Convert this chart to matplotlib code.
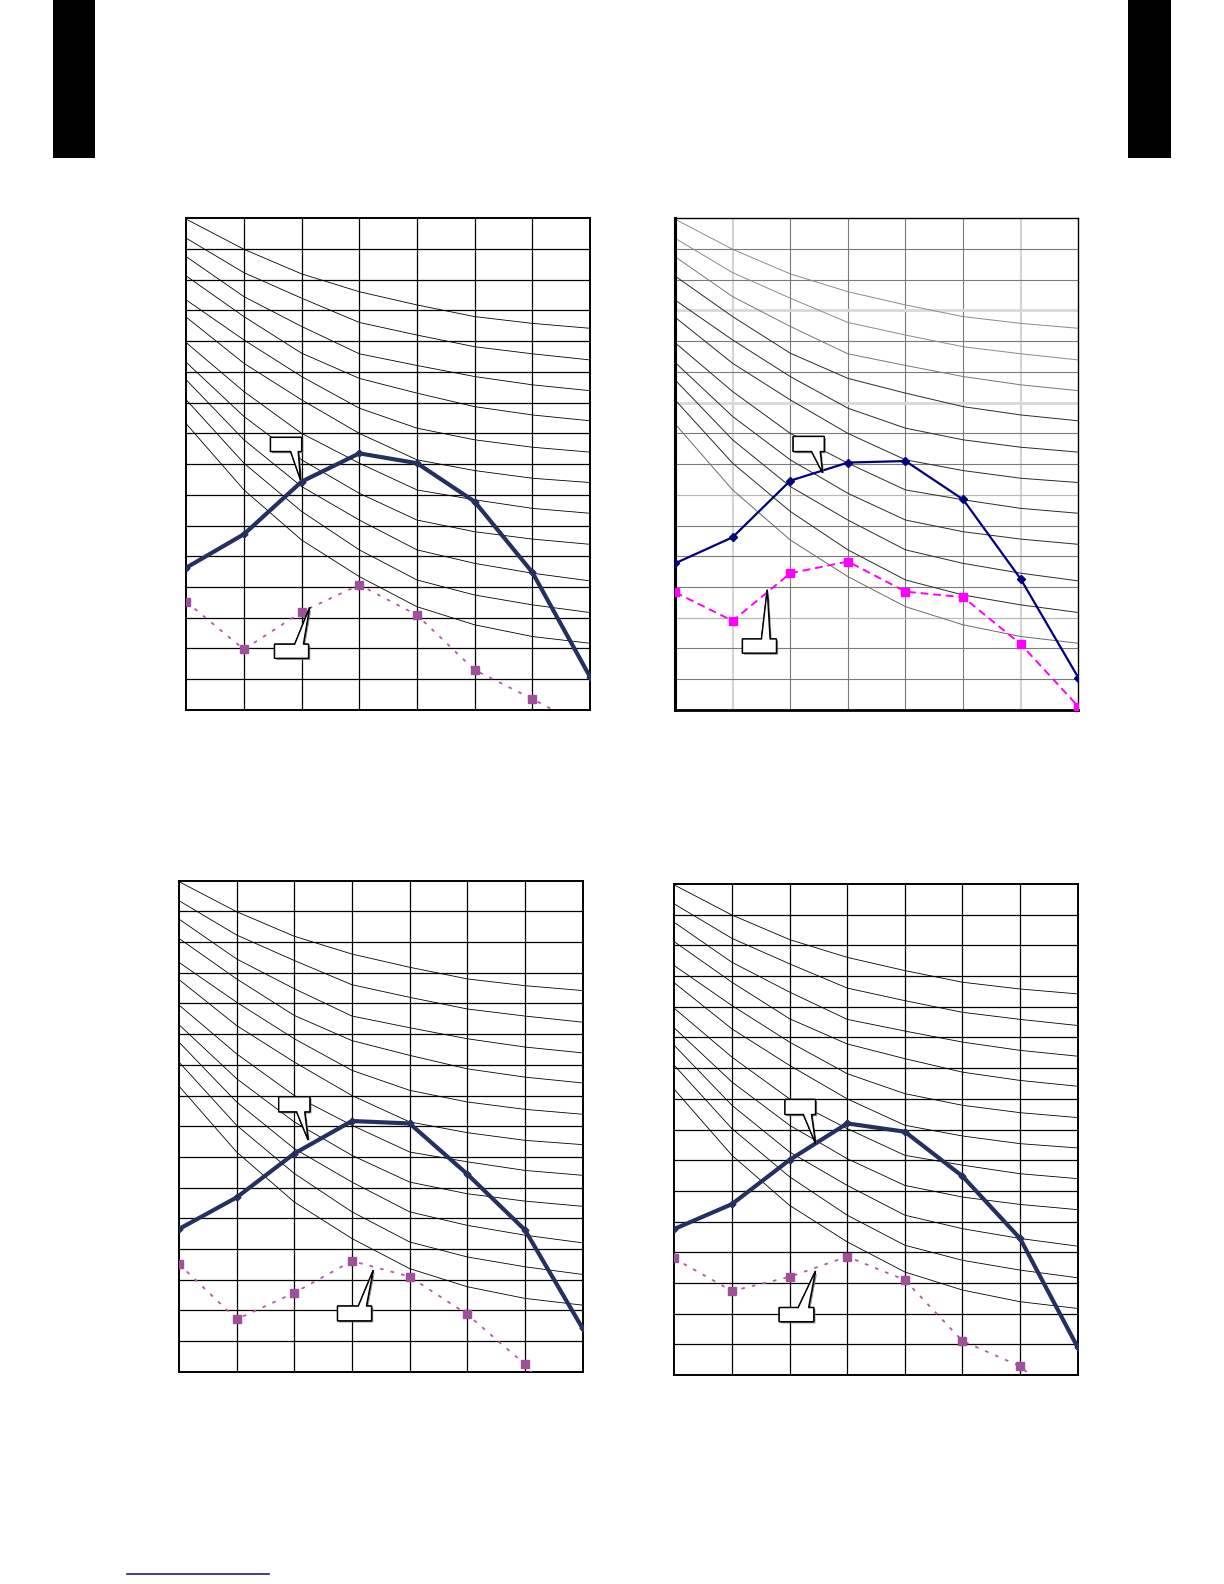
import matplotlib
matplotlib.use("Agg")
import matplotlib.pyplot as plt
import matplotlib.patheffects as pe
from matplotlib.patches import Polygon, Rectangle
from matplotlib.lines import Line2D

# x positions (grid columns) shared by all four charts
xs = [0, 1, 2, 3, 4, 5, 6, 7]

# background curve family (same in every chart), values in grid units
curves = [
    [15.97, 14.99, 14.19, 13.61, 13.18, 12.80, 12.58, 12.42],
    [15.35, 14.23, 13.40, 12.61, 12.20, 11.82, 11.59, 11.39],
    [14.75, 13.45, 12.48, 11.59, 11.21, 10.85, 10.58, 10.39],
    [14.12, 12.80, 11.61, 10.79, 10.31, 9.87, 9.60, 9.41],
    [13.34, 12.04, 10.85, 9.82, 9.17, 8.79, 8.55, 8.39],
    [12.78, 11.28, 10.09, 9.00, 8.14, 7.79, 7.54, 7.40],
    [11.95, 10.36, 9.00, 8.03, 7.16, 6.84, 6.56, 6.40],
    [11.31, 9.55, 8.14, 7.05, 6.18, 5.80, 5.56, 5.39],
    [10.74, 8.79, 7.27, 6.18, 5.21, 4.77, 4.45, 4.20],
    [10.09, 8.03, 6.46, 5.21, 4.23, 3.74, 3.42, 3.17],
    [9.31, 7.16, 5.53, 4.34, 3.36, 2.77, 2.39, 2.17],
]

# upper (solid) and lower (dotted) series of each chart
top_left_solid = [4.63, 5.72, 7.43, 8.35, 8.03, 6.78, 4.48, 1.08]
top_left_dotted = [3.52, 1.97, 3.19, 4.07, 3.09, 1.30, 0.36, -0.64]
top_right_solid = [4.77, 5.62, 7.46, 8.05, 8.10, 6.85, 4.26, 1.05]
top_right_dotted = [3.83, 2.90, 4.45, 4.83, 3.85, 3.67, 2.14, 0.11]
bottom_left_solid = [4.65, 5.68, 7.11, 8.17, 8.09, 6.44, 4.62, 1.41]
bottom_left_dotted = [3.51, 1.71, 2.57, 3.61, 3.10, 1.87, 0.24, -2.1]
bottom_right_solid = [4.76, 5.57, 7.01, 8.20, 7.93, 6.48, 4.45, 0.90]
bottom_right_dotted = [3.80, 2.74, 3.20, 3.86, 3.10, 1.11, 0.29, -1.36]

# empty callouts: box (x0, x1, y0, y1), pointer base (b0, b1), tip (tx, ty)
top_left_callouts = [
    ((1.46, 2.00, 8.41, 8.87), (1.81, 1.94), (1.98, 7.49), "down"),
    ((1.53, 2.12, 1.68, 2.14), (1.88, 2.03), (2.14, 3.34), "up"),
]
top_right_callouts = [
    ((2.05, 2.59, 8.41, 8.90), (2.37, 2.52), (2.56, 7.72), "down"),
    ((1.17, 1.76, 1.85, 2.31), (1.50, 1.65), (1.60, 3.91), "up"),
]
bottom_left_callouts = [
    ((1.73, 2.27, 8.47, 8.96), (2.04, 2.18), (2.24, 7.55), "down"),
    ((2.75, 3.34, 1.66, 2.14), (3.11, 3.25), (3.37, 3.31), "up"),
]
bottom_right_callouts = [
    ((1.92, 2.45, 8.49, 8.98), (2.24, 2.38), (2.45, 7.55), "down"),
    ((1.82, 2.42, 1.74, 2.20), (2.15, 2.33), (2.45, 3.39), "up"),
]


def add_callout(ax, box, base, tip, side):
    x0, x1, y0, y1 = box
    b0, b1 = base
    if side == "down":
        pts = [(x0, y1), (x1, y1), (x1, y0), (b1, y0), tip, (b0, y0), (x0, y0)]
    else:
        pts = [(x0, y0), (x1, y0), (x1, y1), (b1, y1), tip, (b0, y1), (x0, y1)]
    poly = Polygon(pts, closed=True, facecolor="white", edgecolor="black",
                   linewidth=1.0, zorder=6)
    poly.set_path_effects([pe.withSimplePatchShadow(offset=(1.2, -1.2),
                                                    shadow_rgbFace="0.45", alpha=0.8),
                           pe.Normal()])
    ax.add_patch(poly)


def draw_chart(rect, solid, dotted, callouts, style="dark"):
    ax = fig.add_axes(rect)
    ax.set_xlim(0, 7)
    ax.set_ylim(0, 16)
    ax.set_xticks([])
    ax.set_yticks([])

    if style == "dark":
        for v in range(1, 7):
            ax.axvline(v, color="black", lw=0.9, zorder=1)
        for h in range(1, 16):
            ax.axhline(h, color="black", lw=0.9, zorder=1)
        for c in curves:
            ax.plot(xs, c, color="black", lw=0.6, zorder=2)
        ax.plot(xs, solid, color="#25305f", lw=3.0, marker="D", ms=3.5, zorder=4)
        ax.plot(xs, dotted, color="#b05aa8", lw=1.3, ls=(0, (2, 4)),
                marker="s", ms=5.5, mec="#a0509a", mfc="#a0509a", zorder=3)
        for s in ax.spines.values():
            s.set_linewidth(1.4)
    else:
        # lighter, excel-like grid for the top right chart
        for v in range(1, 7):
            if v in (1, 6):
                ax.axvline(v, color="#d4d4d4", lw=1.6, zorder=1)
            else:
                ax.axvline(v, color="#7a7a7a", lw=0.8, zorder=1)
        for h in range(1, 16):
            if h in (10, 13):
                ax.axhline(h, color="#d8d8d8", lw=2.0, zorder=1)
            elif h in (3, 7):
                ax.axhline(h, color="#b8b8b8", lw=0.9, zorder=1)
            else:
                ax.axhline(h, color="#7a7a7a", lw=0.8, zorder=1)
        shades = ["#8a8a8a", "#8a8a8a", "#777777", "#2a2a2a", "#2a2a2a", "#2a2a2a",
                  "#2a2a2a", "#2a2a2a", "#2a2a2a", "#2a2a2a", "#6a6a6a"]
        for c, col in zip(curves, shades):
            ax.plot(xs, c, color=col, lw=0.7, zorder=2)
        ax.plot(xs, solid, color="#000080", lw=1.6, marker="D", ms=4, zorder=4)
        ax.plot(xs, dotted, color="#ff00ff", lw=1.4, ls=(0, (4, 2.5)),
                marker="s", ms=6, zorder=3)
        for s in ax.spines.values():
            s.set_linewidth(1.0)
        ax.spines["left"].set_linewidth(2.2)
        ax.spines["bottom"].set_linewidth(2.0)

    for box, base, tip, side in callouts:
        add_callout(ax, box, base, tip, side)
    return ax


fig = plt.figure(figsize=(12.24, 15.84), dpi=100)

draw_chart([0.1522, 0.5518, 0.3298, 0.3104], top_left_solid, top_left_dotted, top_left_callouts)
draw_chart([0.5515, 0.5518, 0.3295, 0.3104], top_right_solid, top_right_dotted, top_right_callouts, style="light")
draw_chart([0.1462, 0.1340, 0.3298, 0.3100], bottom_left_solid, bottom_left_dotted, bottom_left_callouts)
draw_chart([0.5509, 0.1319, 0.3296, 0.3100], bottom_right_solid, bottom_right_dotted, bottom_right_callouts)

# page tabs at the top corners
fig.patches.append(Rectangle((0.0429, 0.9003), 0.0347, 0.0997, transform=fig.transFigure,
                             facecolor="black", edgecolor="none"))
fig.patches.append(Rectangle((0.9216, 0.9003), 0.0355, 0.0997, transform=fig.transFigure,
                             facecolor="black", edgecolor="none"))

# short rule at the page bottom
fig.lines.append(Line2D([0.1037, 0.2198], [0.0065, 0.0065], transform=fig.transFigure,
                        color="#1a1a99", lw=1.2))

fig.savefig("out.png", dpi=100)
